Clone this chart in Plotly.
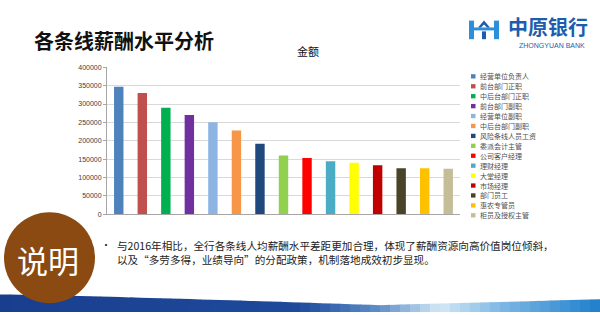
import plotly.graph_objects as go

# ---------------- data ----------------
categories = ["经营单位负责人", "前台部门正职", "中后台部门正职", "前台部门副职", "经营单位副职",
              "中后台部门副职", "风险条线人员工资", "委派会计主管", "公司客户经理", "理财经理",
              "大堂经理", "市场经理", "部门员工", "惠农专管员", "柜员及授权主管"]
values = [347000, 330000, 290000, 270000, 250000, 228000, 192000, 160000, 153000, 144000,
          140000, 133000, 125000, 125000, 124000]
colors = ["#4F81BD", "#C0504D", "#00B050", "#7030A0", "#8DB4E2", "#F79646", "#1F497D",
          "#92D050", "#FF0000", "#4BACC6", "#FFFF00", "#C00000", "#494429", "#FFC000", "#C4BD97"]
y_ticks = [0, 50000, 100000, 150000, 200000, 250000, 300000, 350000, 400000]

W, H = 600, 315
def px(x):
    return x / W
def py(y):
    return 1 - y / H

FONT = "Noto Sans CJK SC"

fig = go.Figure()
fig.add_trace(go.Bar(
    x=list(range(len(categories))), y=values,
    marker=dict(color=colors, line=dict(width=0)),
    width=0.4, showlegend=False, hovertext=categories,
))

shapes = []
annotations = []

# ---------- custom compact legend ----------
leg_y0, leg_dy = 74, 10.15
for i, (name, c) in enumerate(zip(categories, colors)):
    yc = leg_y0 + i * leg_dy
    shapes.append(dict(type="rect", xref="paper", yref="paper",
                       x0=px(471), x1=px(475.5), y0=py(yc + 2.2), y1=py(yc - 2.2),
                       fillcolor=c, line=dict(width=0)))
    annotations.append(dict(text=name, xref="paper", yref="paper", x=px(478), y=py(yc),
                            xanchor="left", yanchor="middle", showarrow=False,
                            font=dict(size=7, color="#505050", family=FONT)))

# ---------- slide title ----------
annotations.append(dict(text="<b>各条线薪酬水平分析</b>", xref="paper", yref="paper",
                        x=px(32), y=py(37), xanchor="left", yanchor="middle", showarrow=False,
                        font=dict(size=20, color="#111111", family=FONT)))
# chart title
annotations.append(dict(text="金额", xref="paper", yref="paper", x=px(308), y=py(48),
                        xanchor="center", yanchor="middle", showarrow=False,
                        font=dict(size=11, color="#111111", family=FONT)))

# ---------- logo ----------
logo_dark = "#1D5DAE"
logo_light = "#2B8FDA"
shapes += [
    dict(type="rect", xref="paper", yref="paper", x0=px(469), x1=px(474), y0=py(36), y1=py(17),
         fillcolor=logo_light, line=dict(width=0)),
    dict(type="rect", xref="paper", yref="paper", x0=px(494), x1=px(499), y0=py(36), y1=py(17),
         fillcolor=logo_light, line=dict(width=0)),
    dict(type="rect", xref="paper", yref="paper", x0=px(469), x1=px(499), y0=py(27), y1=py(24),
         fillcolor=logo_light, line=dict(width=0)),
    dict(type="path", xref="paper", yref="paper",
         path=f"M {px(478)},{py(24)} L {px(484)},{py(17)} L {px(490)},{py(24)} L {px(487)},{py(24)} L {px(484)},{py(21)} L {px(481)},{py(24)} Z",
         fillcolor=logo_dark, line=dict(width=0)),
    dict(type="rect", xref="paper", yref="paper", x0=px(482), x1=px(486), y0=py(36), y1=py(28),
         fillcolor=logo_dark, line=dict(width=0)),
]
annotations.append(dict(text="<b>中原银行</b>", xref="paper", yref="paper", x=px(506), y=py(23.5),
                        xanchor="left", yanchor="middle", showarrow=False,
                        font=dict(size=20, color=logo_dark, family=FONT)))
annotations.append(dict(text="ZHONGYUAN BANK", xref="paper", yref="paper", x=px(552), y=py(42),
                        xanchor="center", yanchor="middle", showarrow=False,
                        font=dict(size=7, color=logo_dark, family="Liberation Sans")))

# ---------- bottom band (gradient emulated with slices) ----------
def band_top(x):
    if x <= 380:
        return 297 + 11 * (x / 380) ** 1.2
    return 308 - 6 * ((x - 380) / 220)

def hex2rgb(h):
    h = h.lstrip("#")
    return tuple(int(h[i:i + 2], 16) for i in (0, 2, 4))

stops = [(0, "#1A3E8E"), (300, "#1E4A9C"), (380, "#5F8FC8"), (440, "#D4E8F6"),
         (500, "#7FB8E4"), (600, "#1F7FCB")]
def col_at(x):
    for (xa, ca), (xb, cb) in zip(stops[:-1], stops[1:]):
        if xa <= x <= xb:
            t = (x - xa) / (xb - xa)
            a, b = hex2rgb(ca), hex2rgb(cb)
            r = [round(a[k] + (b[k] - a[k]) * t) for k in range(3)]
            return f"rgb({r[0]},{r[1]},{r[2]})"
    return stops[-1][1]

N = 60
for i in range(N):
    x0 = i * W / N
    x1 = (i + 1) * W / N + 0.6
    shapes.append(dict(type="path", xref="paper", yref="paper",
                       path=f"M {px(x0)},{py(band_top(x0))} L {px(x1)},{py(band_top(min(x1, W)))} L {px(x1)},{py(H)} L {px(x0)},{py(H)} Z",
                       fillcolor=col_at((x0 + x1) / 2), line=dict(width=0), layer="below"))

# ---------- brown circle with 说明 ----------
shapes.append(dict(type="circle", xref="paper", yref="paper",
                   x0=px(4), x1=px(95), y0=py(306), y1=py(213),
                   fillcolor="#8B4A12", line=dict(width=0), layer="above"))
annotations.append(dict(text="说明", xref="paper", yref="paper", x=px(48), y=py(261),
                        xanchor="center", yanchor="middle", showarrow=False,
                        font=dict(size=31, color="#FFFFFF", family=FONT)))

# ---------- bullet text ----------
annotations.append(dict(text="•", xref="paper", yref="paper", x=px(99), y=py(246),
                        xanchor="left", yanchor="middle", showarrow=False,
                        font=dict(size=10, color="#222222", family=FONT)))
annotations.append(dict(text="与2016年相比，全行各条线人均薪酬水平差距更加合理，体现了薪酬资源向高价值岗位倾斜，",
                        xref="paper", yref="paper", x=px(115), y=py(247),
                        xanchor="left", yanchor="middle", showarrow=False,
                        font=dict(size=10.6, color="#222222", family=FONT)))
annotations.append(dict(text="以及“多劳多得，业绩导向”的分配政策，机制落地成效初步显现。",
                        xref="paper", yref="paper", x=px(115), y=py(261),
                        xanchor="left", yanchor="middle", showarrow=False,
                        font=dict(size=10.6, color="#222222", family=FONT)))

fig.update_layout(
    width=W, height=H, margin=dict(l=0, r=0, t=0, b=0),
    paper_bgcolor="white", plot_bgcolor="white",
    shapes=shapes, annotations=annotations, bargap=0.6,
    xaxis=dict(domain=[px(107), px(460)], range=[-0.5, len(categories) - 0.5],
               showticklabels=False, showgrid=False, zeroline=False,
               showline=True, linecolor="#A6A6A6", linewidth=1, ticks=""),
    yaxis=dict(domain=[py(215), py(64.7)], range=[0, 400000],
               tickvals=y_ticks, ticktext=[str(v) for v in y_ticks],
               tickfont=dict(size=7, color="#404040", family="Liberation Sans"),
               showgrid=True, gridcolor="#D9D9D9", gridwidth=1,
               zeroline=False, showline=True, linecolor="#A6A6A6", linewidth=1,
               ticks="outside", ticklen=3, tickcolor="#A6A6A6"),
)

fig.write_html("out.html")
